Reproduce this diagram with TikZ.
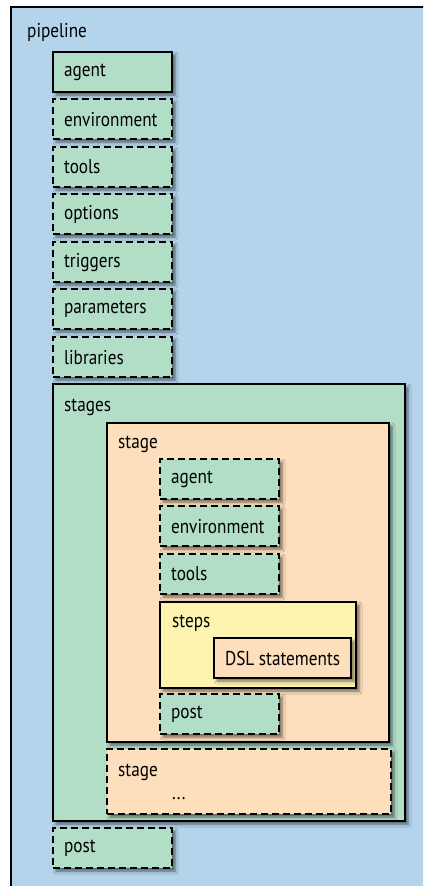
\documentclass[tikz,border=0pt]{standalone}
\usepackage{fontspec}
\setmainfont{PT Sans}[FakeStretch=0.86]
\usetikzlibrary{shadows.blur}
\definecolor{pipeblue}{RGB}{179,212,234}
\definecolor{boxgreen}{RGB}{178,222,199}
\definecolor{boxpeach}{RGB}{253,222,189}
\definecolor{boxyellow}{RGB}{255,244,175}

\begin{document}
\begin{tikzpicture}[x=1pt, y=-1pt, font=\fontsize{20}{24}\selectfont,
  shade/.style={blur shadow={shadow xshift=3pt, shadow yshift=-3pt, shadow blur radius=3pt, shadow opacity=55}},
  block/.style={draw, line width=2.2pt, anchor=north west, inner sep=0pt},
  field/.style={block, shade, fill=boxgreen, minimum width=119pt, minimum height=40pt, text width=97pt, align=left, inner xsep=11pt},
  opt/.style={field, dash pattern=on 7pt off 4pt},
  title/.style={anchor=base west, inner sep=0pt}]
\useasboundingbox (0,0) rectangle (423,886);
\clip (0,0) rectangle (423,886);

% Pipeline
\node[block, fill=pipeblue, minimum width=460pt, minimum height=920pt] (pipeline) at (10,6) {};
\node[title] (pipeline-t) at ([shift={(17,31)}]pipeline.north west) {pipeline};
\node[field] (agent) at (52,51) {agent};
\node[opt] (env) at (52,98) {environment};
\node[opt] (tools) at (52,146) {tools};
\node[opt] (options) at (52,193) {options};
\node[opt] (triggers) at (52,241) {triggers};
\node[opt] (params) at (52,288) {parameters};
\node[opt] (libs) at (52,336) {libraries};

% Stages
\node[block, shade, fill=boxgreen, minimum width=352pt, minimum height=437pt] (stages) at (52,383) {};
\node[title] (stages-t) at ([shift={(12,28)}]stages.north west) {stages};

% Stage
\node[block, shade, fill=boxpeach, minimum width=282pt, minimum height=319pt] (stage) at (106,422) {};
\node[title] (stage-t) at ([shift={(12,26)}]stage.north west) {stage};
\node[opt] (s-agent) at (159,458) {agent};
\node[opt] (s-env) at (159,505) {environment};
\node[opt] (s-tools) at (159,553) {tools};

% Steps
\node[block, shade, fill=boxyellow, minimum width=196pt, minimum height=86pt] (steps) at (159,601) {};
\node[title] (steps-t) at ([shift={(13,26)}]steps.north west) {steps};
\node[block, shade, fill=boxpeach, minimum width=134pt, minimum height=40pt, inner xsep=11pt] (dsl) at (213,637) {DSL statements};
\node[opt] (s-post) at (159,693) {post};

% Next stage
\node[block, shade, fill=boxpeach, dash pattern=on 7pt off 4pt, minimum width=284pt, minimum height=65pt] (stage2) at (106,748) {};
\node[title] (stage2-t) at ([shift={(12,28)}]stage2.north west) {stage};
\node[title] (more) at ([shift={(66,51)}]stage2.north west) {...};

\node[opt] (post) at (52,827) {post};
\end{tikzpicture}
\end{document}
